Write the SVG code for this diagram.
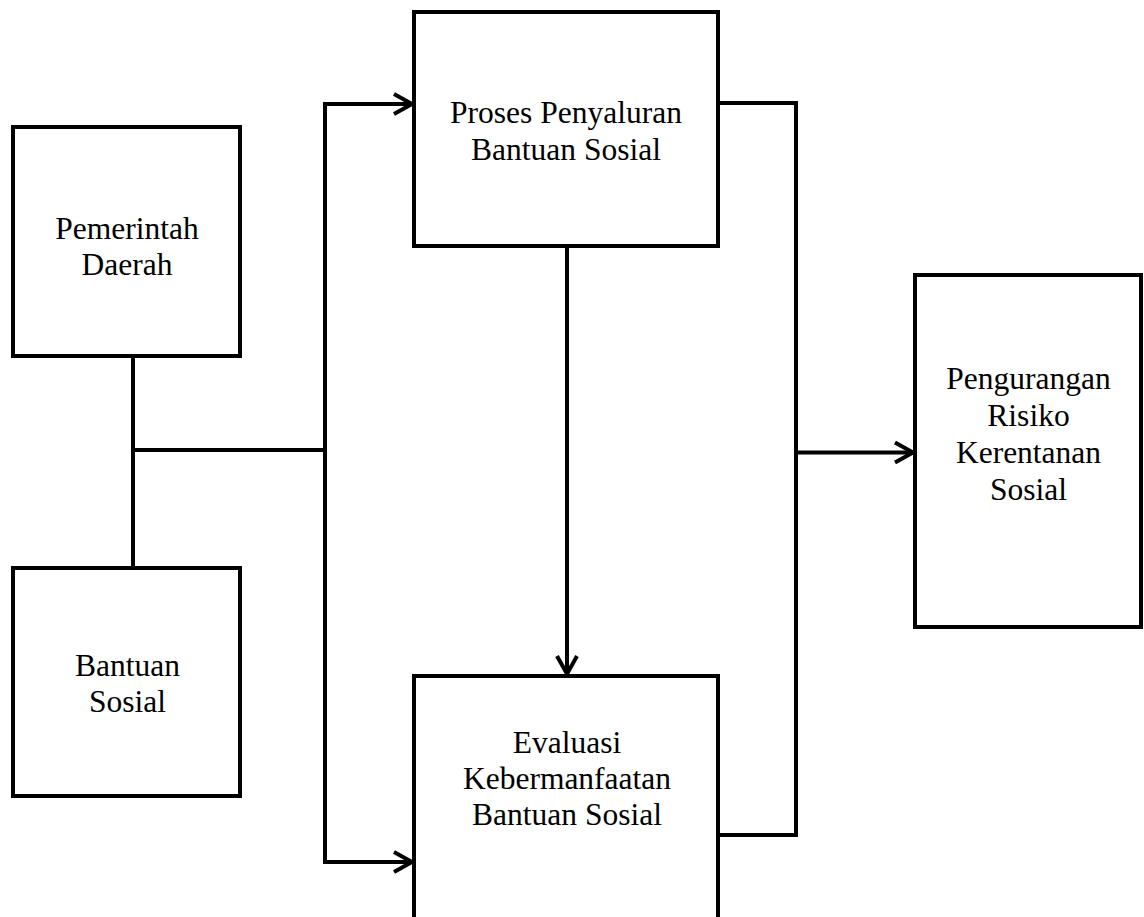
<svg xmlns="http://www.w3.org/2000/svg" width="1144" height="917" viewBox="0 0 1144 917">
<style>
.box{fill:#fff;stroke:#000;stroke-width:4}
.ln{fill:none;stroke:#000;stroke-width:4}
.t{font-family:"Liberation Serif","Times New Roman",serif;font-size:31.5px;fill:#000;text-anchor:middle}
</style>
<defs>
<marker id="arr" markerUnits="userSpaceOnUse" markerWidth="30" markerHeight="30" viewBox="-24 -15 30 30" refX="0" refY="0" orient="auto">
<path d="M-18,-10 L0,0 L-18,10" fill="none" stroke="#000" stroke-width="4"/>
</marker>
</defs>
<rect width="1144" height="917" fill="#fff"/>
<g id="connectors">
<path class="ln" d="M133,356 V568"/>
<path class="ln" d="M133,450 H325"/>
<path class="ln" d="M325,104 V862"/>
<path class="ln" d="M323,104 H412" marker-end="url(#arr)"/>
<path class="ln" d="M323,862 H412" marker-end="url(#arr)"/>
<path class="ln" d="M567,246 V674" marker-end="url(#arr)"/>
<path class="ln" d="M718,103 H796 V835 H718"/>
<path class="ln" d="M796,452.5 H913" marker-end="url(#arr)"/>
</g>
<g id="pemerintah">
<rect class="box" x="13" y="127" width="227" height="229"/>
<text class="t" x="127" y="238.7">Pemerintah</text>
<text class="t" x="127" y="275">Daerah</text>
</g>
<g id="bantuan">
<rect class="box" x="13" y="568" width="227" height="228"/>
<text class="t" x="127.5" y="676">Bantuan</text>
<text class="t" x="127.5" y="712">Sosial</text>
</g>
<g id="proses">
<rect class="box" x="414" y="12" width="304" height="234"/>
<text class="t" x="566" y="123.3">Proses Penyaluran</text>
<text class="t" x="566" y="159.5">Bantuan Sosial</text>
</g>
<g id="evaluasi">
<rect class="box" x="414" y="676" width="304" height="260"/>
<text class="t" x="567" y="752.7">Evaluasi</text>
<text class="t" x="567" y="788.9">Kebermanfaatan</text>
<text class="t" x="567" y="825.3">Bantuan Sosial</text>
</g>
<g id="pengurangan">
<rect class="box" x="915" y="275" width="226" height="352"/>
<text class="t" x="1028.5" y="389.3">Pengurangan</text>
<text class="t" x="1028.5" y="426">Risiko</text>
<text class="t" x="1028.5" y="462.7">Kerentanan</text>
<text class="t" x="1028.5" y="500">Sosial</text>
</g>
</svg>
